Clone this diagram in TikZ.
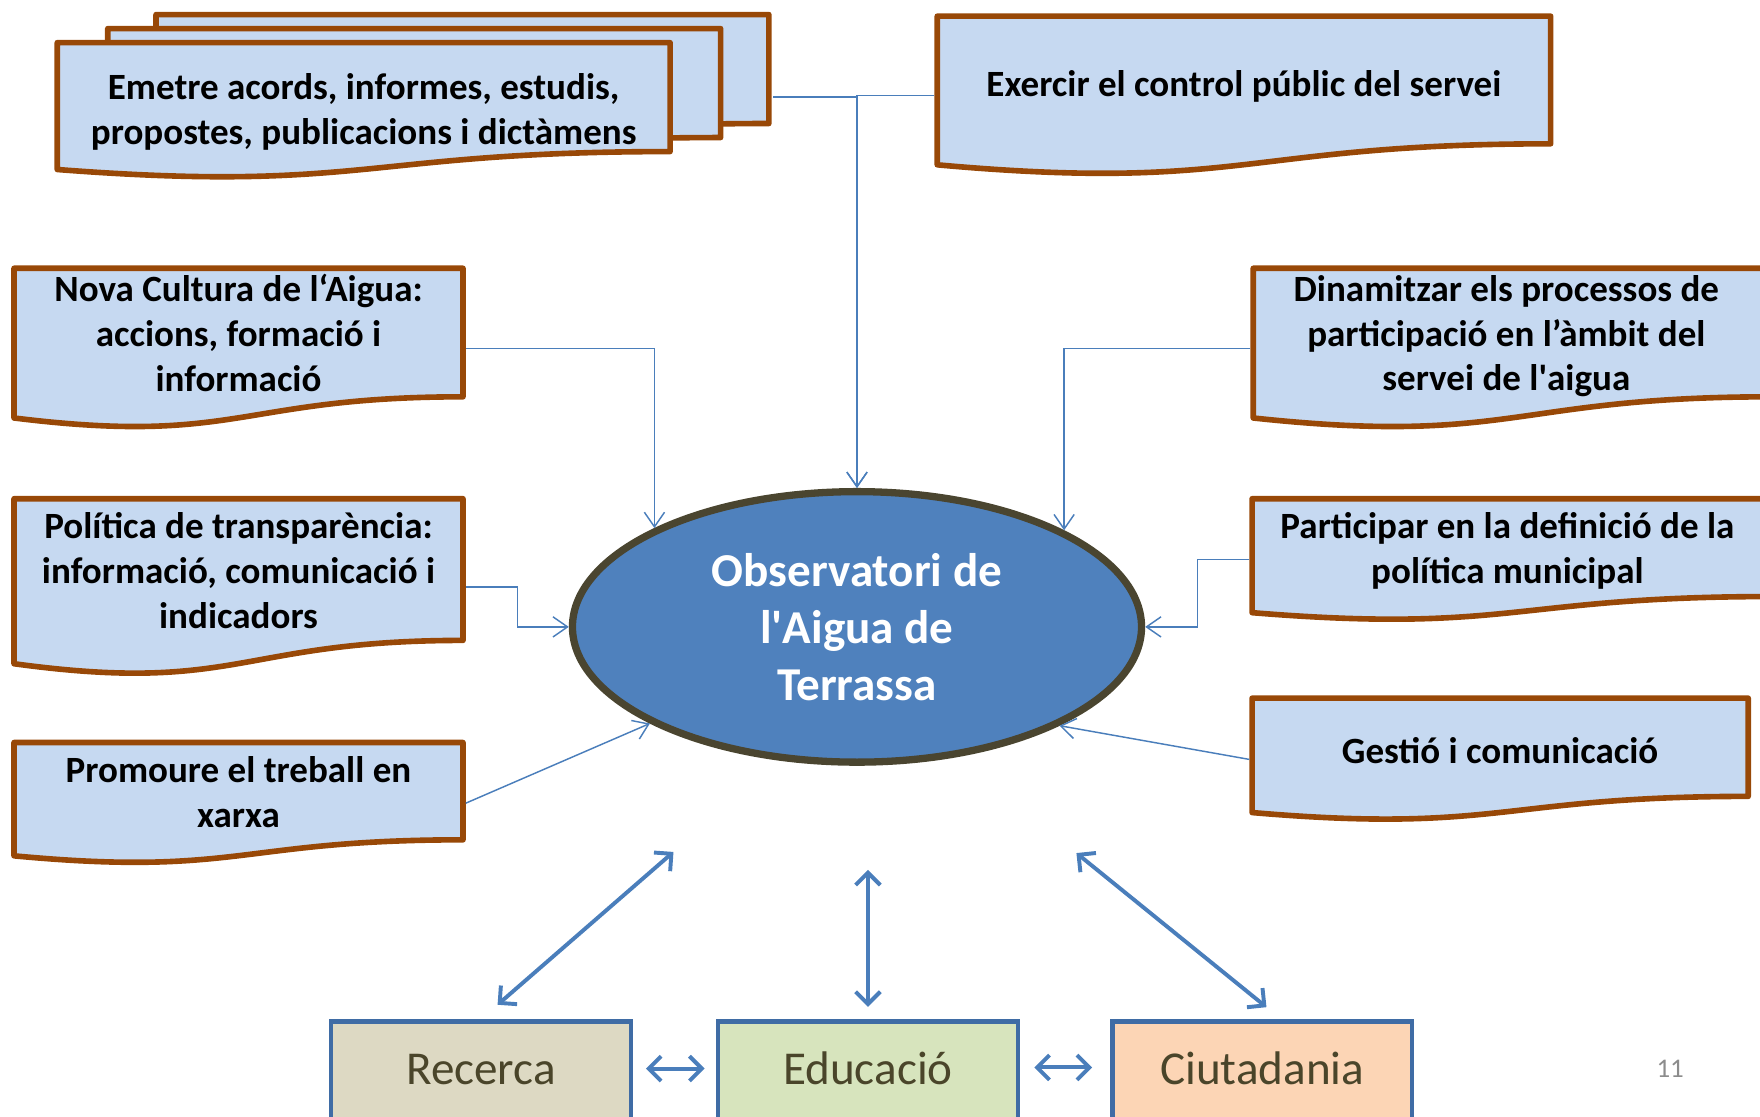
\documentclass[tikz,border=0pt]{standalone}
\usepackage{fontspec}
\setmainfont{Carlito}
\usetikzlibrary{arrows.meta,shapes.geometric}

\definecolor{docfill}{HTML}{C6D9F1}
\definecolor{docline}{HTML}{984807}
\definecolor{obsfill}{HTML}{4F81BD}
\definecolor{obsline}{HTML}{4A4530}
\definecolor{conn}{HTML}{4A7EBB}
\definecolor{boxline}{HTML}{3F6CA5}
\definecolor{recfill}{HTML}{DDD9C3}
\definecolor{edufill}{HTML}{D7E4BD}
\definecolor{ciufill}{HTML}{FCD5B5}
\definecolor{btxt}{HTML}{4A452A}
\definecolor{pagenum}{HTML}{8C8C8C}

\tikzset{
  docpath/.style={fill=docfill, draw=docline, line width=5pt, line join=round},
  docarea/.style={rectangle, draw=none, inner sep=0pt, outer sep=2.5pt},
  doctext/.style={align=center, inner sep=0pt, font=\fontsize{33}{40}\selectfont\bfseries,
    execute at begin node=\strut, execute at end node=\strut},
  thinconn/.style={draw=conn, line width=1.3pt, -{Straight Barb[length=13pt,width=18pt]}},
  bigconn/.style={draw=conn, line width=3.5pt, {Straight Barb[length=11pt,width=22pt]}-{Straight Barb[length=11pt,width=22pt]}},
  basebox/.style={rectangle, draw=boxline, line width=4pt, minimum width=267pt, minimum height=120pt, inner sep=0pt},
  basetext/.style={inner sep=0pt, text=btxt, font=\fontsize{42}{50}\selectfont},
}

% [text x-offset]{name}{left}{top}{width}{height}{text}
\newcommand{\docbox}[7][0]{%
  \path[docpath] (#3,#4) -- ({#3+#5},#4) -- ({#3+#5},{#4+0.802*#6})
    .. controls ({#3+0.5*#5},{#4+0.802*#6}) and ({#3+0.5*#5},{#4+1.1075*#6}) .. (#3,{#4+0.934*#6}) -- cycle;
  \node[docarea, minimum width=#5pt, minimum height=#6pt] (#2) at ({#3+0.5*#5},{#4+0.5*#6}) {};
  \node[doctext] (#2T) at ({#3+0.5*#5+#1},{#4+0.401*#6+6.5}) {#7};
}

\begin{document}
\begin{tikzpicture}[x=1pt,y=-1pt]
\useasboundingbox (0,0) rectangle (1568,995);

% multi-document stack
\docbox{emetreC}{139}{13}{546}{121}{}
\docbox{emetreB}{96}{25.5}{546}{121}{}
\docbox{emetreA}{51}{38}{546}{121}{}
\node[docarea, minimum width=635pt, minimum height=151pt] (emetre) at (368.75,86.5) {};
\node[doctext] (emetreT) at (324,103) {Emetre acords, informes, estudis,\\propostes, publicacions i dictàmens};

\docbox{exer}{835}{14.4}{546.5}{141.8}{Exercir el control públic del servei}
\docbox{nova}{12.5}{239}{400}{142.8}{Nova Cultura de l‘Aigua:\\accions, formació i\\informació}
\docbox[-5]{dina}{1116.5}{239}{461}{142.8}{Dinamitzar els processos de\\participació en l’àmbit del\\servei de l\textquotesingle aigua}
\docbox{pol}{12.5}{444.3}{400}{157.4}{Política de transparència:\\informació, comunicació i\\indicadors}
\docbox[-4]{part}{1115.5}{444.3}{463}{108.7}{Participar en la definició de la\\política municipal}
\docbox{prom}{12.5}{661.5}{400}{108.1}{Promoure el treball en\\xarxa}
\docbox{gest}{1115.5}{622}{442}{109.1}{Gestió i comunicació}

% central ellipse
\node[ellipse, fill=obsfill, draw=obsline, line width=6.5pt, minimum width=507pt, minimum height=241pt,
      inner sep=0pt, align=center, text=white, font=\fontsize{42}{51}\selectfont\bfseries]
  (obs) at (763.5,558.5) {Observatori de\\l\textquotesingle Aigua de\\Terrassa};

% thin connectors
\draw[thinconn] (emetre.east) -| (obs.north);
\draw[thinconn] (exer.west) -| (obs.north);
\draw[thinconn] (nova.east) -| (obs.154.3);
\draw[thinconn] (dina.west) -| (obs.25.7);
\draw[thinconn] (pol.east) -- ++(46,0) |- (obs.west);
\draw[thinconn] (part.west) -- ++(-46,0) |- (obs.east);
\draw[thinconn] (prom.east) -- (obs.205.7);
\draw[thinconn] (gest.west) -- (obs.334.3);

% bottom boxes
\node[basebox, fill=recfill] (rec) at (428.5,970) {};
\node[basetext] (recT) at (428.5,953) {Recerca};
\node[basebox, fill=edufill] (edu) at (773.25,970) {};
\node[basetext] (eduT) at (773.25,952) {Educació};
\node[basebox, fill=ciufill] (ciu) at (1124.5,970) {};
\node[basetext] (ciuT) at (1124.5,952) {Ciutadania};

\node[inner sep=0pt, text=pagenum, font=\fontsize{24}{28}\selectfont] (pnum) at (1488,952) {11};

% thick double arrows
\coordinate (recUp) at (600,759);
\coordinate (eduUp) at (773.25,775);
\coordinate (ciuUp) at (959,760);
\draw[bigconn, shorten <=19.6pt] (rec.north) -- (recUp);
\draw[bigconn, shorten <=11pt] (edu.north) -- (eduUp);
\draw[bigconn, shorten <=17pt] ([xshift=17pt]ciu.north) -- (ciuUp);
\draw[bigconn, shorten <=11.5pt, shorten >=10pt] ([yshift=18pt]rec.east) -- ([yshift=18pt]edu.west);
\draw[bigconn, shorten <=12.75pt, shorten >=16pt] ([yshift=19pt]edu.east) -- ([yshift=19pt]ciu.west);
\end{tikzpicture}
\end{document}
